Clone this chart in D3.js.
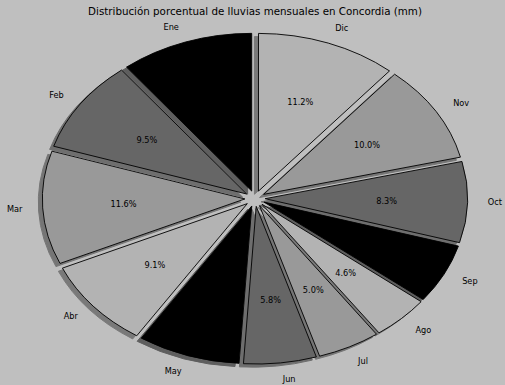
<!DOCTYPE html>
<html>
<head>
<meta charset="utf-8">
<script src="https://cdn.jsdelivr.net/npm/d3@7"></script>
<style>
  html, body { margin: 0; padding: 0; background: #bfbfbf; }
  svg { display: block; }
  text { font-family: "DejaVu Sans", sans-serif; fill: #000; }
</style>
</head>
<body>
<div id="chart"></div>
<script>
// ---- data ----
const months = ["Ene", "Feb", "Mar", "Abr", "May", "Jun", "Jul", "Ago", "Sep", "Oct", "Nov", "Dic"];
const percents = [10.6, 9.5, 11.6, 9.1, 8.2, 5.8, 5.0, 4.6, 6.1, 8.3, 10.0, 11.2];
const greys = ["#000000", "#666666", "#999999", "#b3b3b3"];
const title = "Distribución porcentual de lluvias mensuales en Concordia (mm)";

// ---- layout ----
const W = 505, H = 385;
const cx = 255, cy = 198.5, rx = 202.5, ry = 157.7;
const explode = 0.05, labelDist = 1.1, pctDist = 0.6, shadowOff = 0.02;

const x = d3.scaleLinear().domain([-1, 1]).range([cx - rx, cx + rx]);
const y = d3.scaleLinear().domain([-1, 1]).range([cy + ry, cy - ry]);

const svg = d3.select("#chart").append("svg").attr("width", W).attr("height", H);
svg.append("rect").attr("width", W).attr("height", H).attr("fill", "#bfbfbf");

const total = d3.sum(percents);
const pie = d3.pie().sort(null).value(d => d).startAngle(0).endAngle(-2 * Math.PI);
const arcs = pie(percents);
const arc = d3.arc().innerRadius(0).outerRadius(1);

const sx = x(1) - x(0), sy = y(0) - y(1);
const g = svg.append("g").attr("transform", `translate(${x(0)},${y(0)}) scale(${sx},${sy})`);

function mid(d) { return (d.startAngle + d.endAngle) / 2; }
function darken(c) {
  const r = d3.rgb(c);
  return d3.rgb(r.r * 0.3, r.g * 0.3, r.b * 0.3).formatHex();
}

// shadows (below all wedges)
g.selectAll("path.shadow").data(arcs).enter().append("path")
  .attr("class", "shadow")
  .attr("d", arc)
  .attr("transform", d => `translate(${explode * Math.sin(mid(d)) - shadowOff},${-explode * Math.cos(mid(d)) + shadowOff})`)
  .attr("fill", (d, i) => darken(greys[i % 4]))
  .attr("stroke", (d, i) => darken(greys[i % 4]))
  .attr("stroke-width", 1)
  .attr("vector-effect", "non-scaling-stroke")
  .attr("opacity", 0.5);

// wedges
g.selectAll("path.wedge").data(arcs).enter().append("path")
  .attr("class", "wedge")
  .attr("d", arc)
  .attr("transform", d => `translate(${explode * Math.sin(mid(d))},${-explode * Math.cos(mid(d))})`)
  .attr("fill", (d, i) => greys[i % 4])
  .attr("stroke", "#000")
  .attr("stroke-width", 0.9)
  .attr("stroke-linejoin", "miter")
  .attr("vector-effect", "non-scaling-stroke");

// month labels
svg.selectAll("text.lbl").data(arcs).enter().append("text")
  .attr("class", "lbl")
  .attr("x", d => x((explode + labelDist) * Math.sin(mid(d))))
  .attr("y", d => y((explode + labelDist) * Math.cos(mid(d))))
  .attr("text-anchor", d => Math.sin(mid(d)) > 0 ? "start" : "end")
  .attr("dominant-baseline", "central")
  .attr("font-size", "8.2px")
  .text((d, i) => months[i]);

// percentage labels
svg.selectAll("text.pct").data(arcs).enter().append("text")
  .attr("class", "pct")
  .attr("x", d => x((explode + pctDist) * Math.sin(mid(d))))
  .attr("y", d => y((explode + pctDist) * Math.cos(mid(d))))
  .attr("text-anchor", "middle")
  .attr("dominant-baseline", "central")
  .attr("font-size", "8.2px")
  .text(d => d3.format(".1f")(d.value / total * 100) + "%");

// title
svg.append("text")
  .attr("x", cx).attr("y", 15)
  .attr("text-anchor", "middle")
  .attr("font-size", "10.3px")
  .text(title);
</script>
</body>
</html>
